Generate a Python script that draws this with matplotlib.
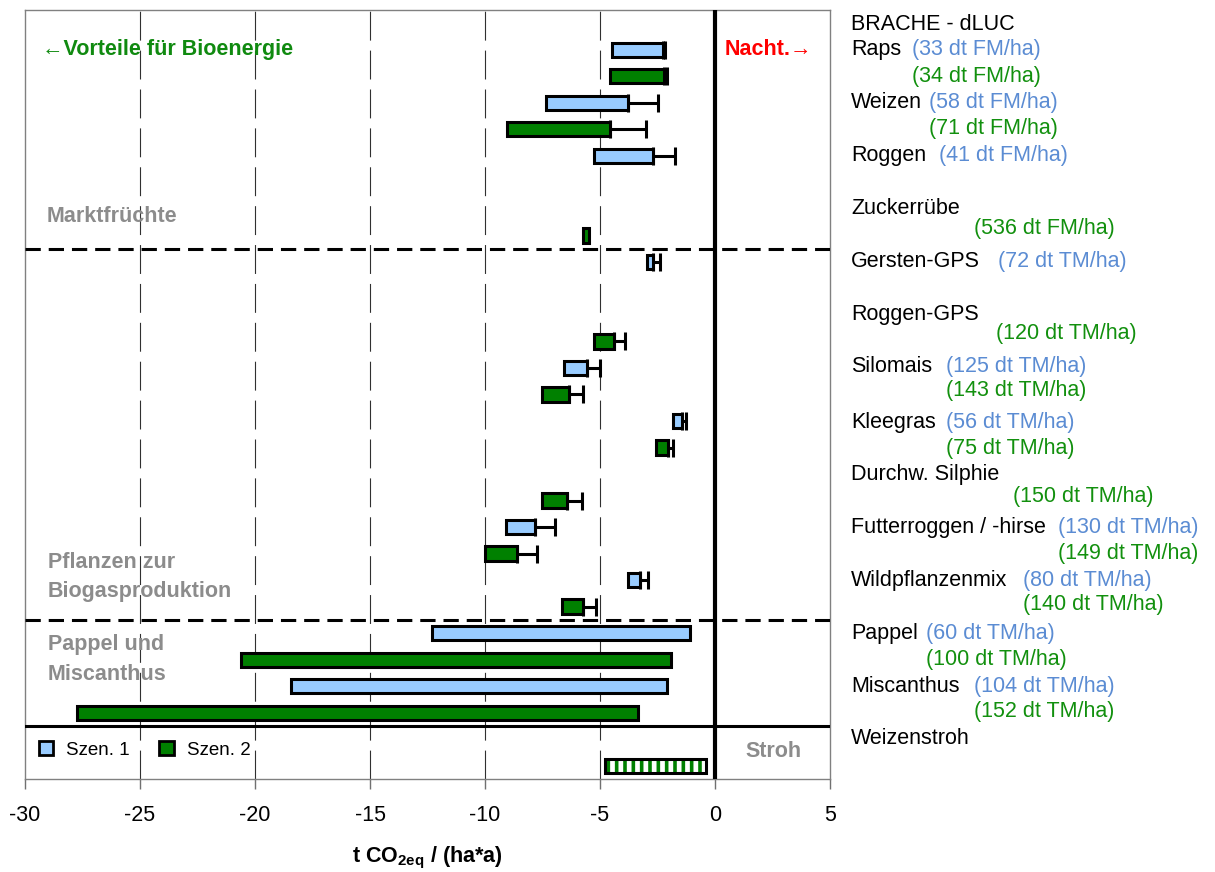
import matplotlib.pyplot as plt
from matplotlib.patches import Patch

plt.rcParams['font.family'] = ['Liberation Sans', 'DejaVu Sans']
plt.rcParams['mathtext.fontset'] = 'custom'
plt.rcParams['mathtext.bf'] = 'Liberation Sans:bold'
plt.rcParams['mathtext.rm'] = 'Liberation Sans:bold'
plt.rcParams['hatch.linewidth'] = 3.4

# bars: row position, scenario, left end, right end, end of error bar
rows = [0, 1, 2, 3, 4, 7, 8, 11, 12, 13, 14, 15, 17, 18, 19, 20, 21, 22, 23, 24, 25]
szen = [1, 2, 1, 2, 1, 2, 1, 2, 1, 2, 1, 2, 2, 1, 2, 1, 2, 1, 2, 1, 2]
left = [-4.49, -4.57, -7.36, -9.04, -5.27, -5.75, -2.97, -5.27, -6.58, -7.52, -1.84, -2.55,
        -7.52, -9.10, -10.01, -3.78, -6.65, -12.3, -20.6, -18.45, -27.75]
right = [-2.27, -2.20, -3.77, -4.55, -2.68, -5.48, -2.71, -4.39, -5.57, -6.35, -1.42, -2.04,
         -6.42, -7.81, -8.61, -3.25, -5.73, -1.1, -1.9, -2.1, -3.33]
err_end = [-2.16, -2.09, -2.48, -3.01, -1.75, None, -2.39, -3.93, -5.0, -5.73, -1.27, -1.81,
           -5.78, -6.96, -7.74, -2.91, -5.19, None, None, None, None]

# Weizenstroh (hatched)
stroh_row = 27
stroh_left, stroh_right = -4.8, -0.4

# labels on the right
names = [("BRACHE - dLUC", -0.97), ("Raps", 0), ("Weizen", 2), ("Roggen", 4),
         ("Zuckerrübe", 6), ("Gersten-GPS", 8), ("Roggen-GPS", 10), ("Silomais", 11.95),
         ("Kleegras", 14.05), ("Durchw. Silphie", 16.03), ("Futterroggen / -hirse", 18.02),
         ("Wildpflanzenmix", 20), ("Pappel", 22), ("Miscanthus", 24.02), ("Weizenstroh", 25.96)]
yields = [("(33 dt FM/ha)", 0, 911.7, 1), ("(34 dt FM/ha)", 1, 911.7, 2),
          ("(58 dt FM/ha)", 2, 929.3, 1), ("(71 dt FM/ha)", 2.95, 929.3, 2),
          ("(41 dt FM/ha)", 4, 939, 1), ("(536 dt FM/ha)", 6.73, 974.3, 2),
          ("(72 dt TM/ha)", 8, 997.7, 1), ("(120 dt TM/ha)", 10.69, 996, 2),
          ("(125 dt TM/ha)", 11.95, 946, 1), ("(143 dt TM/ha)", 12.85, 946, 2),
          ("(56 dt TM/ha)", 14.05, 946, 1), ("(75 dt TM/ha)", 15.05, 946, 2),
          ("(150 dt TM/ha)", 16.85, 1013.3, 2), ("(130 dt TM/ha)", 18.02, 1058.3, 1),
          ("(149 dt TM/ha)", 19, 1058.3, 2), ("(80 dt TM/ha)", 20, 1022.7, 1),
          ("(140 dt TM/ha)", 20.92, 1022.7, 2), ("(60 dt TM/ha)", 22, 926, 1),
          ("(100 dt TM/ha)", 23, 926, 2), ("(104 dt TM/ha)", 24.02, 974.3, 1),
          ("(152 dt TM/ha)", 24.97, 974.3, 2)]

xticks = [-30, -25, -20, -15, -10, -5, 0, 5]

fill = {1: '#99CCFF', 2: '#008000'}
txtcol = {1: '#5B8CD3', 2: '#12900E'}
gray = '#8C8C8C'

fig = plt.figure(figsize=(12.15, 8.72), dpi=100)
ax = fig.add_axes([25 / 1215, 1 - 779 / 872, 805 / 1215, 769 / 872])
ax.set_xlim(-30, 5)
ax.set_ylim(27.5, -1.5)


def px2x(px):
    return (px - 715) / 23.0


for x in [-25, -20, -15, -10, -5]:
    ax.axvline(x, color='#303030', lw=0.8, dashes=(26, 9), zorder=0)
ax.axvline(0, color='black', lw=3, zorder=4)
ax.axhline(7.5, color='black', lw=2.2, dashes=(5, 2.6), zorder=3)
ax.axhline(21.5, color='black', lw=2.2, dashes=(5, 2.6), zorder=3)
ax.axhline(25.5, color='black', lw=2.2, zorder=3)

bh = 0.54
for r, s, l, rt, e in zip(rows, szen, left, right, err_end):
    if e is not None:
        ax.errorbar(rt, r, xerr=[[0], [e - rt]], fmt='none', ecolor='black',
                    elinewidth=2.2, capsize=6.5, capthick=2.2, zorder=2)
    ax.barh(r, rt - l, left=l, height=bh, color=fill[s], edgecolor='black',
            linewidth=2.2, zorder=3)

ax.barh(stroh_row, stroh_right - stroh_left, left=stroh_left, height=bh,
        color='#008000', edgecolor='white', hatch='||', linewidth=0, zorder=3)
ax.barh(stroh_row, stroh_right - stroh_left, left=stroh_left, height=bh,
        fill=False, edgecolor='black', linewidth=2.2, zorder=3)

# texts inside the plot
ax.text(px2x(41.7), 0, "←Vorteile für Bioenergie", color='#108A10', fontsize=15.5,
        fontweight='bold', va='center', ha='left')
ax.text(px2x(725), 0, "Nacht.→", color='#FF0000', fontsize=15.5,
        fontweight='bold', va='center', ha='left')
ax.text(px2x(46.7), 6.3, "Marktfrüchte", color=gray, fontsize=15.5, fontweight='bold',
        va='center', ha='left')
ax.text(px2x(47.7), 19.33, "Pflanzen zur", color=gray, fontsize=15.5, fontweight='bold',
        va='center', ha='left')
ax.text(px2x(47.7), 20.43, "Biogasproduktion", color=gray, fontsize=15.5, fontweight='bold',
        va='center', ha='left')
ax.text(px2x(47.7), 22.44, "Pappel und", color=gray, fontsize=15.5, fontweight='bold',
        va='center', ha='left')
ax.text(px2x(47.7), 23.55, "Miscanthus", color=gray, fontsize=15.5, fontweight='bold',
        va='center', ha='left')
ax.text(px2x(745), 26.47, "Stroh", color=gray, fontsize=15.5, fontweight='bold',
        va='center', ha='left')

# right side labels
for name, r in names:
    ax.text(px2x(851), r, name, color='black', fontsize=15.5, va='center', ha='left',
            clip_on=False)
for t, r, px, s in yields:
    ax.text(px2x(px), r, t, color=txtcol[s], fontsize=15.5, va='center', ha='left',
            clip_on=False)

handles = [Patch(facecolor=fill[1], edgecolor='black', linewidth=2),
           Patch(facecolor=fill[2], edgecolor='black', linewidth=2)]
ax.legend(handles, ["Szen. 1", "Szen. 2"], ncol=2, loc='center left',
          bbox_to_anchor=(0.017, 0.0377), frameon=False, fontsize=13.5,
          handlelength=0.75, handleheight=0.75, handletextpad=0.7,
          columnspacing=1.6, borderpad=0, borderaxespad=0)

ax.set_xticks(xticks)
ax.set_xticklabels([str(x) for x in xticks])
ax.set_yticks([])
ax.tick_params(axis='x', direction='out', length=7, width=1, color='#707070',
               labelsize=15.5, pad=12)
for sp in ax.spines.values():
    sp.set_color('#808080')
    sp.set_linewidth(1)

fig.text(427.5 / 1215, 1 - 858 / 872, r"t CO$_{\mathbf{2eq}}$ / (ha*a)", fontsize=15.5,
         fontweight='bold', ha='center', va='center')

fig.savefig('out.png', dpi=100)
